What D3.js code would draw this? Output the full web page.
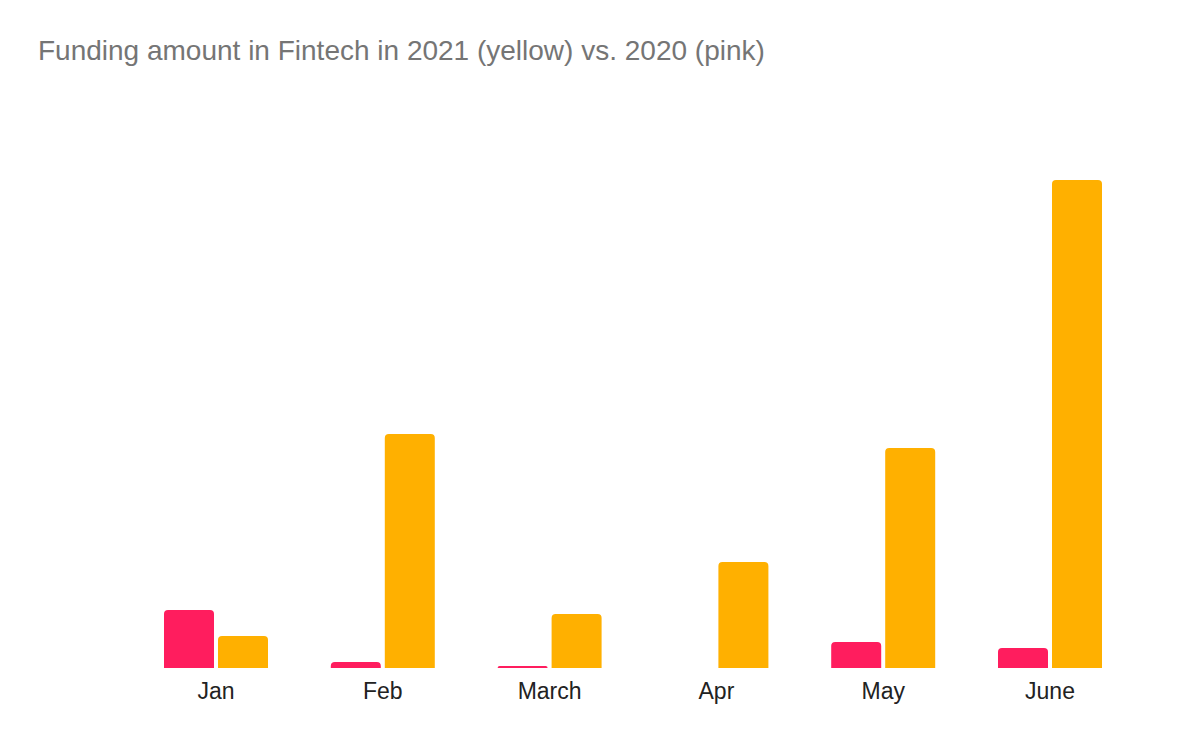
<!DOCTYPE html>
<html>
<head>
<meta charset="utf-8">
<script src="https://cdn.jsdelivr.net/npm/d3@7"></script>
<style>
  body { margin: 0; background: #fff; }
  text { font-family: "Liberation Sans", Arial, sans-serif; }
</style>
</head>
<body>
<script>
// data (funding, arbitrary units)
var months = ["Jan", "Feb", "March", "Apr", "May", "June"];
var values2020 = [5.8, 0.6, 0.2, 0, 2.6, 2.0];
var values2021 = [3.2, 23.4, 5.4, 10.6, 22.0, 48.8];
var seriesNames = ["2020", "2021"];
var seriesColors = ["#ff1d5e", "#ffb000"];

var width = 1200, height = 742;

var svg = d3.select("body")
  .append("svg")
  .attr("width", width)
  .attr("height", height);

// title
svg.append("text")
  .attr("x", 38)
  .attr("y", 60)
  .attr("fill", "#757575")
  .style("font-size", "28px")
  .text("Funding amount in Fintech in 2021 (yellow) vs. 2020 (pink)");

var x0 = d3.scaleBand()
  .domain(months)
  .range([132.6, 1133.4])
  .paddingInner(0)
  .paddingOuter(0);

var x1 = d3.scaleBand()
  .domain(seriesNames)
  .range([-52, 52])
  .paddingInner(4 / 54);

var y = d3.scaleLinear()
  .domain([0, 50])
  .range([668, 168]);

var rows = months.map(function(m, i) {
  return { month: m, vals: [values2020[i], values2021[i]] };
});

// bar with rounded top corners
function topRounded(x, yTop, w, h, r) {
  r = Math.min(r, h, w / 2);
  return "M" + x + "," + (yTop + h) +
    "V" + (yTop + r) +
    "Q" + x + "," + yTop + " " + (x + r) + "," + yTop +
    "H" + (x + w - r) +
    "Q" + (x + w) + "," + yTop + " " + (x + w) + "," + (yTop + r) +
    "V" + (yTop + h) + "Z";
}

var groups = svg.selectAll("g.grp")
  .data(rows)
  .enter().append("g")
  .attr("class", "grp")
  .attr("transform", function(d) {
    return "translate(" + (x0(d.month) + x0.bandwidth() / 2) + ",0)";
  });

groups.selectAll("path")
  .data(function(d) {
    return d.vals.map(function(v, j) { return { key: seriesNames[j], v: v, c: seriesColors[j] }; });
  })
  .enter().append("path")
  .filter(function(d) { return d.v > 0; })
  .attr("d", function(d) {
    var h = y(0) - y(d.v);
    return topRounded(x1(d.key), y(d.v), x1.bandwidth(), h, 4);
  })
  .attr("fill", function(d) { return d.c; });

// month labels
var xAxis = d3.axisBottom(x0).tickSize(0).tickPadding(15);
var ax = svg.append("g")
  .attr("transform", "translate(0," + y(0) + ")")
  .call(xAxis);
ax.select(".domain").remove();
ax.selectAll("text")
  .attr("fill", "#222")
  .style("font-size", "23px")
  .style("font-family", "'Liberation Sans', Arial, sans-serif");
</script>
</body>
</html>
